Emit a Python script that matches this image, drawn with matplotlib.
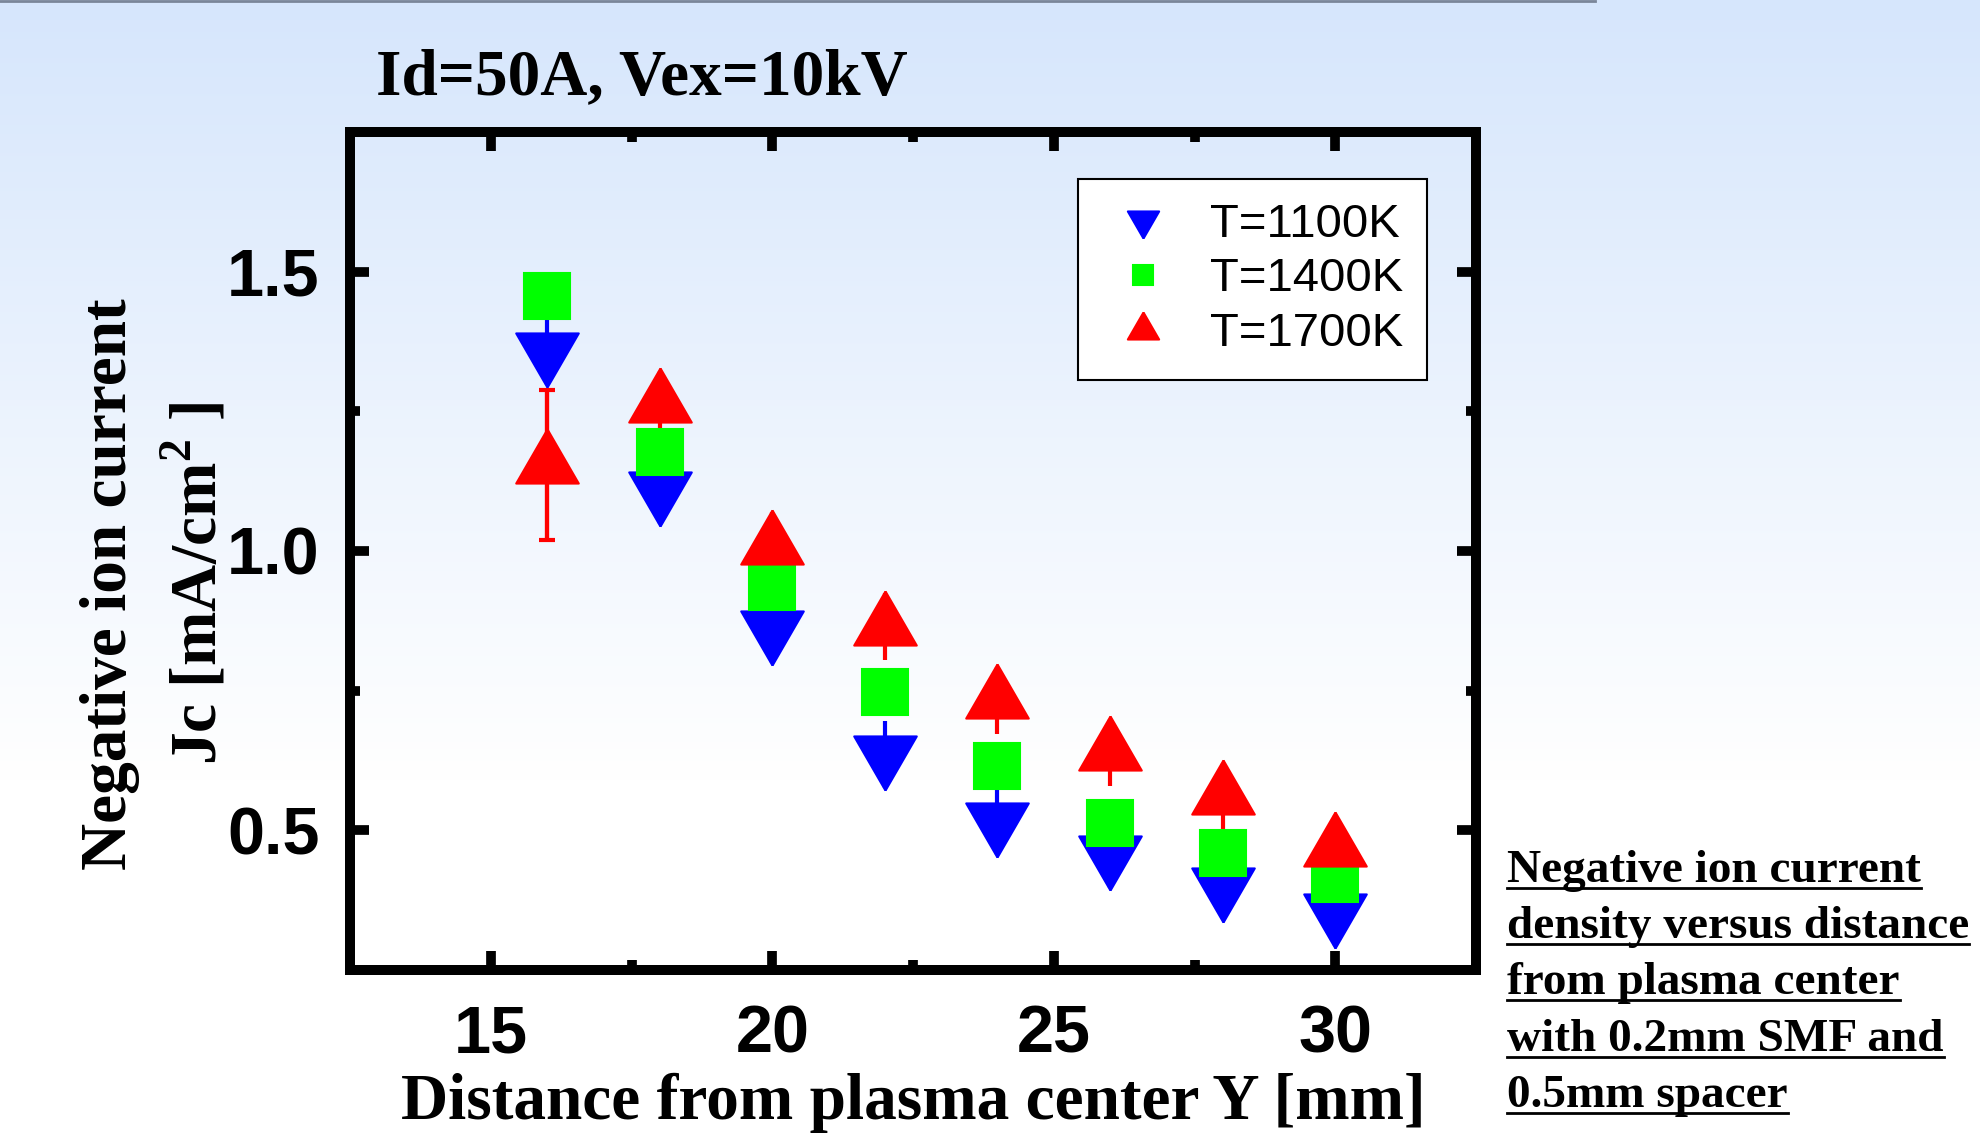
import numpy as np
import matplotlib
matplotlib.use('Agg')
import matplotlib.pyplot as plt
from matplotlib.lines import Line2D
from matplotlib.ticker import MultipleLocator

# distance from plasma center Y [mm]
dist = [16, 18, 20, 22, 24, 26, 28, 30]

# negative ion current density Jc [mA/cm2]
jc_1100 = [1.358, 1.109, 0.860, 0.636, 0.516, 0.457, 0.401, 0.353]
jc_1400 = [1.457, 1.177, 0.935, 0.747, 0.615, 0.513, 0.459, 0.412]
jc_1700 = [1.154, 1.263, 1.009, 0.864, 0.733, 0.640, 0.561, 0.468]

err_1100 = [0.06, 0.06, 0.06, 0.06, 0.06, 0.06, 0.06, 0.06]
err_1700 = [0.135, 0.06, 0.06, 0.06, 0.06, 0.06, 0.06, 0.06]

labels = ['T=1100K', 'T=1400K', 'T=1700K']
xticks = [15, 20, 25, 30]
yticks = [0.5, 1.0, 1.5]

caption = ['Negative ion current',
           'density versus distance',
           'from plasma center',
           'with 0.2mm SMF and',
           '0.5mm spacer']

# triangles centred on their centroid (like Origin draws them)
tri_up = [(0, 1), (-0.866, -0.5), (0.866, -0.5), (0, 1)]
tri_dn = [(0, -1), (-0.866, 0.5), (0.866, 0.5), (0, -1)]

serif = 'Liberation Serif'
fig = plt.figure(figsize=(19.81, 11.33), dpi=100)

# background gradient, light blue at top fading to white
bg = fig.add_axes([0, 0, 1, 1], zorder=-10)
top = np.array([214, 230, 252]) / 255.0
t = np.clip(np.arange(1133) / 780.0, 0, 1)[:, None]
grad = (top[None, :] + (1 - top[None, :]) * t)[:, None, :]
bg.imshow(grad, aspect='auto', extent=[0, 1, 0, 1])
bg.set_axis_off()
fig.add_artist(Line2D([0, 0.805], [0.999, 0.999], transform=fig.transFigure,
                      color='#7a8699', lw=2))

ax = fig.add_axes([0.1767, 0.1439, 0.5684, 0.7396])
ax.set_facecolor('none')

# error bars (stems only, big one gets caps)
ax.errorbar(dist, jc_1100, yerr=err_1100, fmt='none', ecolor='#0000ff',
            elinewidth=3, capsize=0, zorder=2)
ax.errorbar(dist, jc_1700, yerr=err_1700, fmt='none', ecolor='#ff0000',
            elinewidth=3, capsize=0, zorder=2)
big = [i for i, e in enumerate(err_1700) if e > 0.1]
ax.errorbar([dist[i] for i in big], [jc_1700[i] for i in big],
            yerr=[err_1700[i] for i in big], fmt='none', ecolor='#ff0000',
            elinewidth=3, capsize=6, capthick=3, zorder=2)

l1, = ax.plot(dist, jc_1100, ls='none', marker=tri_dn, ms=52, color='#0000ff',
              mec='#0000ff', mew=1.5, zorder=3)
l2, = ax.plot(dist, jc_1400, ls='none', marker='s', ms=33, color='#00ff00',
              mec='#00ff00', mew=1.5, zorder=4)
l3, = ax.plot(dist, jc_1700, ls='none', marker=tri_up, ms=52, color='#ff0000',
              mec='#ff0000', mew=1.5, zorder=5)

ax.set_xlim(12.5, 32.5)
ax.set_ylim(0.25, 1.75)
ax.set_xticks(xticks)
ax.set_yticks(yticks)
ax.set_yticklabels(['%.1f' % v for v in yticks])
ax.xaxis.set_minor_locator(MultipleLocator(2.5))
ax.yaxis.set_minor_locator(MultipleLocator(0.25))
for s in ax.spines.values():
    s.set_linewidth(7.2)
ax.tick_params(which='both', direction='in', top=True, right=True, width=7)
ax.tick_params(which='major', length=14)
ax.tick_params(which='minor', length=7)
ax.tick_params(axis='x', pad=25)
ax.tick_params(axis='y', pad=22)
for lab in ax.get_xticklabels() + ax.get_yticklabels():
    lab.set_family('Liberation Sans')
    lab.set_weight('bold')
    lab.set_size(48)

ax.set_xlabel('Distance from plasma center Y [mm]', family=serif,
              weight='bold', size=47)
ax.xaxis.set_label_coords(0.5, -0.1587)
ax.xaxis.label.set_verticalalignment('center')
ax.set_ylabel('Negative ion current\nJc [mA/cm$^{\\mathregular{2}}$ ]', family=serif,
              weight='bold', size=47, linespacing=1.4)
ax.yaxis.set_label_coords(-0.173, 0.4606)
ax.yaxis.label.set_verticalalignment('center')
ax.yaxis.label.set_horizontalalignment('center')

ax.text(0.023, 1.0644, 'Id=50A, Vex=10kV', transform=ax.transAxes,
        family=serif, weight='bold', size=47, va='center', ha='left')

leg = ax.legend([l1, l2, l3], labels, loc='upper left',
                bbox_to_anchor=(0.6465, 0.9439), prop={'family': 'Liberation Sans', 'size': 34},
                frameon=True, fancybox=False, framealpha=1, edgecolor='black',
                borderpad=0.5, labelspacing=0.23, handlelength=1.75,
                handletextpad=0.55, borderaxespad=0)
leg.get_frame().set_linewidth(1.5)
for h, m in zip(leg.legend_handles, [26, 15, 26]):
    h.set_markersize(m)

# caption on the right, underlined
cap_texts = []
for i, line in enumerate(caption):
    yb = 1 - (882 + 56.2 * i) / 1133.0
    cap_texts.append(fig.text(1507 / 1981.0, yb, line, family=serif,
                              weight='bold', size=34, va='baseline', ha='left'))

fig.canvas.draw()
r = fig.canvas.get_renderer()
inv = fig.transFigure.inverted()
for txt in cap_texts:
    bb = txt.get_window_extent(r)
    ypix = fig.transFigure.transform(txt.get_position())[1] - 6
    (x0, y0), (x1, _) = inv.transform([(bb.x0, ypix), (bb.x1, ypix)])
    fig.add_artist(Line2D([x0, x1], [y0, y0], transform=fig.transFigure,
                          color='black', lw=2))

fig.savefig('out.png', dpi=100)
